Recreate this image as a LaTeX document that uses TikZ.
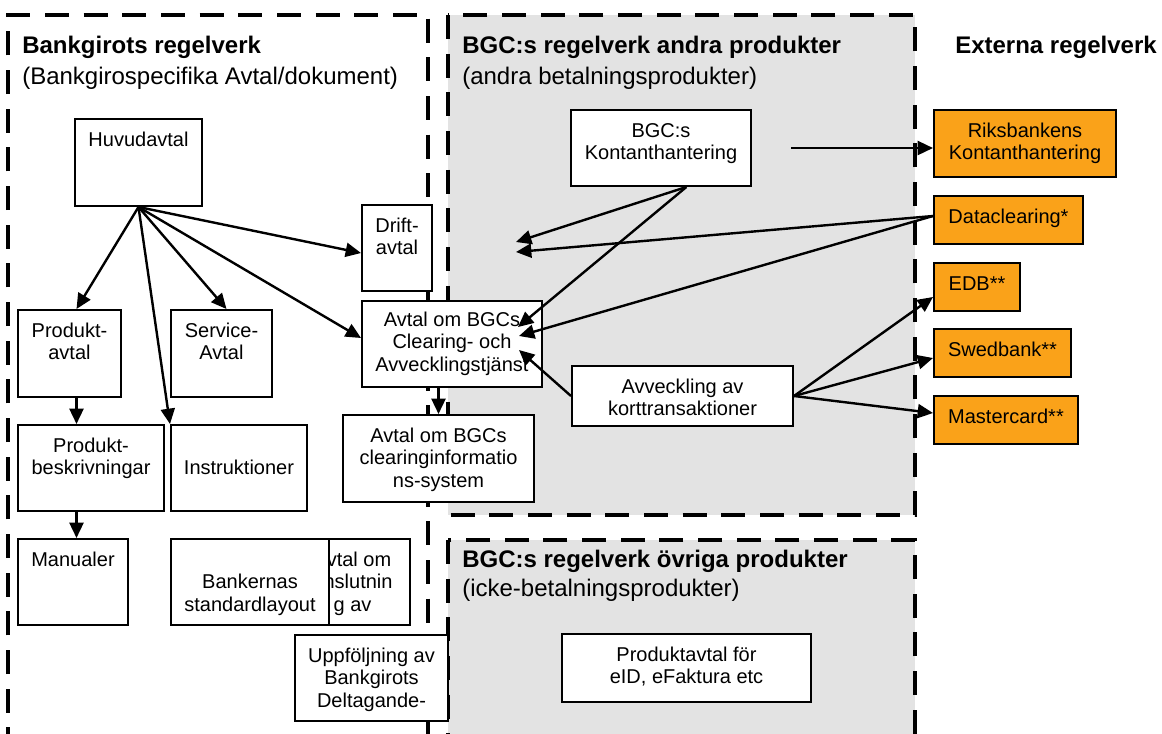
\documentclass[tikz,border=0pt]{standalone}
\usepackage{fontspec}
\setmainfont{Liberation Sans}
\usetikzlibrary{arrows.meta,fit,calc}
\definecolor{grayfill}{RGB}{227,227,227}
\definecolor{orangefill}{RGB}{250,162,25}
\newcommand{\boxfont}{\fontsize{15}{17}\selectfont}
\newcommand{\titlefont}{\fontsize{18}{22}\selectfont}
\begin{document}
\begin{tikzpicture}[x=0.75pt,y=-0.75pt,
  frame/.style={line width=3pt, dash pattern=on 18pt off 11pt},
  graybox/.style={frame, fill=grayfill},
  box/.style={draw, line width=1.5pt, fill=white, inner sep=0pt},
  obox/.style={box, fill=orangefill},
  txt/.style={anchor=north, inner sep=0pt, align=center, font=\boxfont, yshift=-9pt},
  arr/.style={line width=1.8pt, -{Triangle[length=11.5pt,width=10.5pt]}},
  title/.style={anchor=base west, inner sep=0pt, font=\titlefont}
]
\useasboundingbox (0,0) rectangle (1162,733);
\fill[white] (0,0) rectangle (1162,733);

% frames
\draw[frame] (8,790) -- (8,15) -- (428,15) -- (428,790);
\draw[graybox] (448,15) rectangle (915,515);
\draw[graybox] (448,540) rectangle (915,790);

% titles
\node[title] (t1a) at (22,53) {\bfseries Bankgirots regelverk};
\node[title] (t1b) at (22,84) {(Bankgirospecifika Avtal/dokument)};
\node[title] (t2a) at (462,53) {\bfseries BGC:s regelverk andra produkter};
\node[title] (t2b) at (462,84) {(andra betalningsprodukter)};
\node[title] (t3a) at (462,567) {\bfseries BGC:s regelverk övriga produkter};
\node[title] (t3b) at (462,596) {(icke-betalningsprodukter)};
\node[title] (t4) at (955,53) {\bfseries Externa regelverk};

% boxes
\node[box, fit={(75,119) (202,206)}] (hv) {};
\node[txt] (hv-t) at (hv.north) {\strut Huvudavtal};
\node[box, fit={(362,205) (432,291)}] (dr) {};
\node[txt] (dr-t) at (dr.north) {\strut Drift-\\avtal};
\node[box, fit={(362,301) (542,387)}] (cl) {};
\node[txt, yshift=1.5pt] (cl-t) at (cl.north) {\strut Avtal om BGCs\\Clearing- och\\Avvecklingstjänst};
\node[box, fit={(18,310) (121,397)}] (pa) {};
\node[txt] (pa-t) at (pa.north) {\strut Produkt-\\avtal};
\node[box, fit={(171,310) (272,397)}] (sa) {};
\node[txt] (sa-t) at (sa.north) {\strut Service-\\Avtal};
\node[box, fit={(18,425) (164,511)}] (pb) {};
\node[txt] (pb-t) at (pb.north) {\strut Produkt-\\beskrivningar};
\node[box, fit={(171,425) (307,511)}] (in) {};
\node[txt] (in-t) at (in.north) {\strut\\Instruktioner};
\node[box, fit={(343,415) (534,502)}] (ci) {};
\node[txt] (ci-t) at (ci.north) {\strut Avtal om BGCs\\clearinginformatio\\ns-system};
\node[box, fit={(18,539) (128,625)}] (ma) {};
\node[txt] (ma-t) at (ma.north) {\strut Manualer};
\node[box, fit={(295,539) (410,625)}] (an) {};
\node[txt] (an-t) at (an.north) {\strut Avtal om\\anslutnin\\g av};
\node[box, fit={(171,539) (329,625)}] (bk) {};
\node[txt] (bk-t) at (bk.north) {\strut\\Bankernas\\standardlayout};
\node[box, fit={(295,635) (448,721)}] (up) {};
\node[txt] (up-t) at (up.north) {\strut Uppföljning av\\Bankgirots\\Deltagande-};
\node[box, fit={(571,110) (751,186)}] (ko) {};
\node[txt] (ko-t) at (ko.north) {\strut BGC:s\\Kontanthantering};
\node[box, fit={(572,366) (793,426)}] (av) {};
\node[txt] (av-t) at (av.north) {\strut Avveckling av\\korttransaktioner};
\node[box, fit={(562,634) (811,702)}] (pr) {};
\node[txt] (pr-t) at (pr.north) {\strut Produktavtal för\\eID, eFaktura etc};
\node[obox, fit={(934,110) (1116,177)}] (rb) {};
\node[txt] (rb-t) at (rb.north) {\strut Riksbankens\\Kontanthantering};
\node[obox, fit={(934,196) (1083,244)}] (dc) {};
\node[txt] (dc-t) at (dc.north) {\strut Dataclearing*};
\node[obox, fit={(934,263) (1020,311)}] (edb) {};
\node[txt] (edb-t) at (edb.north) {\strut EDB**};
\node[obox, fit={(934,329) (1071,377)}] (sw) {};
\node[txt] (sw-t) at (sw.north) {\strut Swedbank**};
\node[obox, fit={(934,396) (1078,444)}] (mc) {};
\node[txt] (mc-t) at (mc.north) {\strut Mastercard**};

% connectors
\coordinate (pab) at ($(pa.south)+(7,0)$);
\draw[arr] (hv.south) -- ($(pa.north)+(7,0)$);
\draw[arr] (hv.south) -- (in.north west);
\draw[arr] (hv.south) -- ($(sa.north)+(5,0)$);
\draw[arr] (hv.south) -- ($(dr.west)+(0,5)$);
\draw[arr] (hv.south) -- ($(cl.west)+(0,-6)$);
\draw[arr] (pab) -- (pab |- pb.north);
\draw[arr] (pab |- pb.south) -- (pab |- ma.north);
\draw[arr] (cl.south -| ci.north) -- (ci.north);

\coordinate (kstart) at (791,148);
\coordinate (f1) at (516,242);
\coordinate (f2) at (516,252);
\draw[arr] (kstart) -- (kstart -| rb.west);
\draw[arr] (ko.-57) -- (f1);
\draw[arr] (ko.-57) -- ($(cl.east)+(-25,-17)$);
\draw[arr] ($(dc.west)+(0,-4)$) -- (f2);
\draw[arr] ($(dc.west)+(0,-4)$) -- ($(cl.east)+(-24,-8)$);
\draw[arr] (av.west) -- ($(cl.east)+(-24,6)$);
\draw[arr] (av.east) -- ($(edb.west)+(0,10)$);
\draw[arr] (av.east) -- ($(sw.west)+(0,5)$);
\draw[arr] (av.east) -- ($(mc.west)+(0,-7)$);
\end{tikzpicture}
\end{document}
